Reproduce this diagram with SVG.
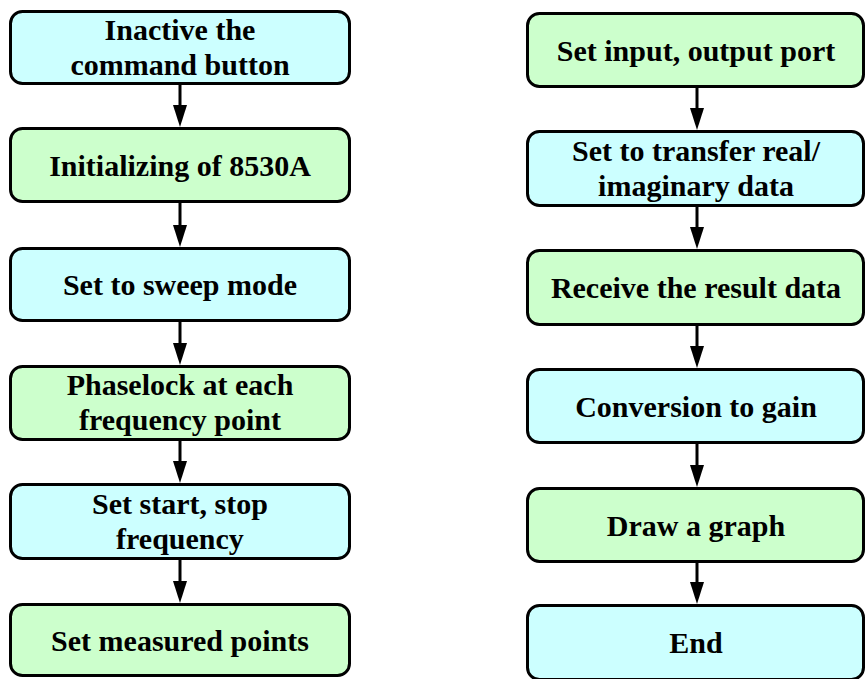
<svg xmlns="http://www.w3.org/2000/svg" width="866" height="679" viewBox="0 0 866 679">
<defs>
<style>
.box{stroke:#000;stroke-width:3}
.c{fill:#CCFFFF}
.g{fill:#CCFFCC}
.ln{stroke:#000;stroke-width:3;fill:none}
.ah{fill:#000}
</style>
</defs>
<rect width="866" height="679" fill="#fff"/>
<g id="connectors">
<line class="ln" x1="180" y1="85" x2="180" y2="108"/><polygon class="ah" points="173,105 187,105 180,127"/>
<line class="ln" x1="180" y1="203" x2="180" y2="228"/><polygon class="ah" points="173,225 187,225 180,247"/>
<line class="ln" x1="180" y1="322" x2="180" y2="346"/><polygon class="ah" points="173,343 187,343 180,365"/>
<line class="ln" x1="180" y1="441" x2="180" y2="464"/><polygon class="ah" points="173,461 187,461 180,483"/>
<line class="ln" x1="180" y1="560" x2="180" y2="584"/><polygon class="ah" points="173,581 187,581 180,603"/>
<line class="ln" x1="697" y1="88" x2="697" y2="111"/><polygon class="ah" points="690,108 704,108 697,130"/>
<line class="ln" x1="697" y1="207" x2="697" y2="230"/><polygon class="ah" points="690,227 704,227 697,249"/>
<line class="ln" x1="697" y1="326" x2="697" y2="349"/><polygon class="ah" points="690,346 704,346 697,368"/>
<line class="ln" x1="697" y1="444" x2="697" y2="468"/><polygon class="ah" points="690,465 704,465 697,487"/>
<line class="ln" x1="697" y1="563" x2="697" y2="585"/><polygon class="ah" points="690,582 704,582 697,604"/>
</g>
<g font-family="Liberation Serif" font-weight="bold" font-size="30" fill="#000" text-anchor="middle">
<g id="n1"><rect class="box c" x="10.5" y="11.5" width="339" height="72" rx="12"/><text x="180" y="40">Inactive the</text><text x="180" y="75">command button</text></g>
<g id="n2"><rect class="box g" x="10.5" y="128.5" width="339" height="73" rx="12"/><text x="180" y="176">Initializing of 8530A</text></g>
<g id="n3"><rect class="box c" x="10.5" y="248.5" width="339" height="72" rx="12"/><text x="180" y="295">Set to sweep mode</text></g>
<g id="n4"><rect class="box g" x="10.5" y="366.5" width="339" height="73" rx="12"/><text x="180" y="395">Phaselock at each</text><text x="180" y="430">frequency point</text></g>
<g id="n5"><rect class="box c" x="10.5" y="484.5" width="339" height="74" rx="12"/><text x="180" y="514">Set start, stop</text><text x="180" y="549">frequency</text></g>
<g id="n6"><rect class="box g" x="10.5" y="604.5" width="339" height="71" rx="12"/><text x="180" y="651">Set measured points</text></g>
<g id="n7"><rect class="box g" x="527.5" y="13.5" width="336" height="73" rx="12"/><text x="696" y="61">Set input, output port</text></g>
<g id="n8"><rect class="box c" x="527.5" y="131.5" width="336" height="74" rx="12"/><text x="696" y="161">Set to transfer real/</text><text x="696" y="196">imaginary data</text></g>
<g id="n9"><rect class="box g" x="527.5" y="250.5" width="336" height="74" rx="12"/><text x="696" y="298">Receive the result data</text></g>
<g id="n10"><rect class="box c" x="527.5" y="369.5" width="336" height="73" rx="12"/><text x="696" y="417">Conversion to gain</text></g>
<g id="n11"><rect class="box g" x="527.5" y="488.5" width="336" height="73" rx="12"/><text x="696" y="536">Draw a graph</text></g>
<g id="n12"><rect class="box c" x="527.5" y="605.5" width="336" height="74" rx="12"/><text x="696" y="653">End</text></g>
</g>
</svg>
